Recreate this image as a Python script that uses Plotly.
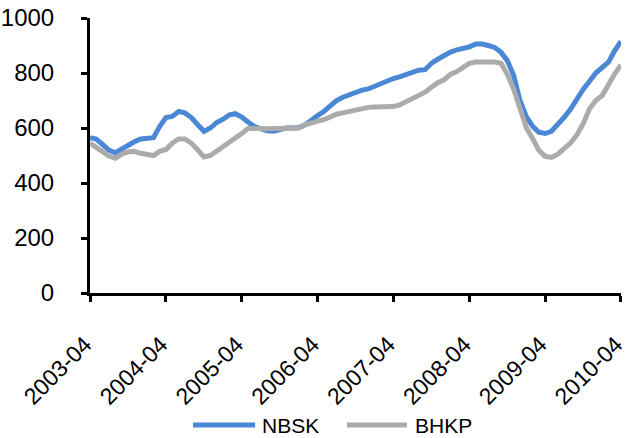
import pandas as pd
import plotly.graph_objects as go

# Monthly pulp prices, April 2003 - April 2010
months = pd.date_range("2003-04-01", "2010-04-01", freq="MS")

nbsk = [565, 560, 540, 520, 510, 525, 540, 550, 560, 562, 565, 605,
        638, 642, 660, 655, 638, 612, 588, 600, 620, 632, 648, 652,
        640, 622, 605, 598, 590, 588, 595, 600, 600, 602, 612, 630,
        645, 660, 680, 700, 712, 722, 730, 738, 742, 752, 765, 772,
        780, 786, 795, 804, 810, 812, 835, 850, 865, 876, 884, 888,
        895, 905, 905, 900, 893, 875, 845, 790, 700, 640, 605, 585,
        580, 588, 612, 638, 668, 708, 740, 770, 800, 820, 840, 880,
        915]

bhkp = [545, 530, 510, 498, 490, 505, 513, 515, 508, 505, 500, 515,
        522, 545, 560, 560, 545, 520, 495, 500, 515, 535, 548, 565,
        580, 598, 600, 598, 597, 597, 597, 597, 598, 600, 612, 618,
        622, 630, 640, 650, 655, 660, 668, 672, 675, 676, 676, 677,
        678, 684, 695, 708, 720, 730, 748, 765, 775, 795, 805, 818,
        835, 840, 840, 840, 840, 835, 795, 740, 665, 600, 560, 520,
        497, 493, 505, 525, 545, 575, 615, 670, 700, 718, 760, 795,
        829]

series_names = ["NBSK", "BHKP"]
series_colors = ["#4A88D6", "#ABABAB"]

year_ticks = pd.date_range("2003-04-01", "2010-04-01", freq="12MS")
tick_labels = [d.strftime("%Y-%m") for d in year_ticks]

font_family = "Arial, Liberation Sans, sans-serif"

fig = go.Figure()
for name, vals, color in zip(series_names, [nbsk, bhkp], series_colors):
    fig.add_trace(go.Scatter(x=months, y=vals, mode="lines", name=name,
                             line=dict(color=color, width=5),
                             showlegend=False))

# Legend drawn below the axis: a long line sample followed by the series name
legend_y = -0.48
legend_items = [(0.194, 0.311, 0.320), (0.484, 0.597, 0.608)]
for (x0, x1, xt), name, color in zip(legend_items, series_names, series_colors):
    fig.add_shape(type="line", xref="paper", yref="paper",
                  x0=x0, x1=x1, y0=legend_y, y1=legend_y,
                  line=dict(color=color, width=5))
    fig.add_annotation(xref="paper", yref="paper", x=xt, y=legend_y,
                       xanchor="left", yanchor="middle", text=name,
                       showarrow=False, font=dict(size=21))

fig.update_layout(
    width=627, height=438,
    margin=dict(l=90, r=6, t=18, b=145, autoexpand=False),
    paper_bgcolor="white", plot_bgcolor="white",
    font=dict(family=font_family, size=24, color="black"),
    showlegend=False,
)

fig.update_xaxes(
    range=[months[0], months[-1] + pd.Timedelta(hours=12)],
    tickvals=list(year_ticks), ticktext=tick_labels,
    tickangle=-45, ticklabelstandoff=20, ticklabelshift=-5,
    ticklabeloverflow="allow",
    showline=True, linecolor="black", linewidth=3,
    ticks="outside", ticklen=6, tickwidth=3, tickcolor="black",
    showgrid=False, zeroline=False, automargin=False,
    tickfont=dict(size=23),
)
fig.update_yaxes(
    range=[0, 1000], tickvals=[0, 200, 400, 600, 800, 1000],
    showline=True, linecolor="black", linewidth=3,
    ticks="outside", ticklen=6, tickwidth=3, tickcolor="black",
    showgrid=False, zeroline=False, ticklabelstandoff=22,
    automargin=False,
    tickfont=dict(size=24),
)

fig.write_html("out.html")
